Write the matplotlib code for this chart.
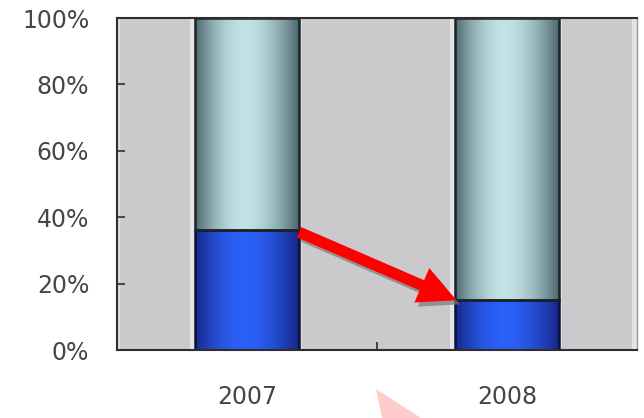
import numpy as np
import matplotlib
matplotlib.use("Agg")
import matplotlib.pyplot as plt
from matplotlib.patches import FancyArrowPatch, Polygon, Rectangle
import matplotlib.patheffects as pe

# Data: share of the blue segment and the remainder (percent)
years = ["2007", "2008"]
share_blue = [36, 15]
share_rest = [64, 85]
yticks = [0, 20, 40, 60, 80, 100]
ytick_labels = ["0%", "20%", "40%", "60%", "80%", "100%"]

W, H = 644, 418
fig = plt.figure(figsize=(W / 100, H / 100), dpi=100)
ax = fig.add_axes([117 / W, 68 / H, 520 / W, 332 / H])

x = np.arange(len(years))
width = 0.4
ax.set_xlim(-0.5, len(years) - 0.5)
ax.set_ylim(0, 100)
ax.set_facecolor("#cac8ca")

# Gray background panels between the bars, with pale edges
panel_edges = [-0.5] + [v for xi in x for v in (xi - width / 2, xi + width / 2)] + [len(years) - 0.5]
for a, b in zip(panel_edges[0::2], panel_edges[1::2]):
    ax.axvspan(a, b, color="#cbc9cb", zorder=0.2, lw=0)
    ax.axvspan(a, a + 0.012, color="#dedede", zorder=0.3, lw=0)
    ax.axvspan(b - 0.018, b, color="#e4e4e4", zorder=0.3, lw=0)


def shaded(dark, light, n=256, center=0.47):
    t = np.linspace(0, 1, n)
    d = np.abs(t - center) / np.where(t < center, center, 1 - center)
    s = np.clip(1 - d ** 1.8, 0, 1)
    dark = np.array(dark)
    light = np.array(light)
    row = dark[None, :] + (light - dark)[None, :] * s[:, None]
    return row[None, :, :]


blue_img = shaded((0.09, 0.15, 0.52), (0.17, 0.38, 0.98))
cyan_img = shaded((0.30, 0.40, 0.43), (0.76, 0.89, 0.90))

blue_bars = ax.bar(x, share_blue, width, color="#2552e0", edgecolor="none", zorder=2)
rest_bars = ax.bar(x, share_rest, width, bottom=share_blue, color="#a8d2d5",
                   edgecolor="none", zorder=2)

for bars, img, edge in ((blue_bars, blue_img, "#0b1238"), (rest_bars, cyan_img, "#1b2426")):
    for p in bars:
        x0, y0 = p.get_x(), p.get_y()
        w, h = p.get_width(), p.get_height()
        im = ax.imshow(img, extent=[x0, x0 + w, y0, y0 + h], aspect="auto",
                       interpolation="bilinear", zorder=2.1)
        im.set_clip_path(p)
        ax.add_patch(Rectangle((x0, y0), w, h, fill=False, edgecolor=edge,
                               lw=1.8, zorder=2.3))

ax.set_aspect("auto")
ax.set_xlim(-0.5, len(years) - 0.5)
ax.set_ylim(0, 100)

# Axes styling
for side in ("left", "bottom", "top"):
    ax.spines[side].set_color("#2e2e2e")
    ax.spines[side].set_linewidth(1.5)
ax.spines["right"].set_color("#9a9a9a")
ax.spines["right"].set_linewidth(1.0)
for s in ax.spines.values():
    s.set_zorder(3)

label_color = "#464646"
ax.set_yticks(yticks)
ax.set_yticklabels(ytick_labels)
ax.tick_params(axis="y", direction="in", length=6, width=1.2, color="#2e2e2e",
               pad=20, labelsize=17, labelcolor=label_color)
ax.set_xticks(x)
ax.set_xticklabels(years)
ax.tick_params(axis="x", which="major", length=0, pad=25, labelsize=17,
               labelcolor=label_color)
ax.set_xticks([0.5], minor=True)
ax.tick_params(axis="x", which="minor", direction="in", length=6, width=1.2,
               color="#2e2e2e")

# Red arrow from the 2007 blue segment top to the 2008 one
arrow = FancyArrowPatch(
    (x[0] + width / 2, share_blue[0] - 0.5), (x[1] - width / 2 + 0.005, share_blue[1]),
    arrowstyle="simple,head_width=27,head_length=27,tail_width=8",
    mutation_scale=1, color="#ff0000", lw=0, shrinkA=0, shrinkB=0, zorder=4,
    path_effects=[pe.SimplePatchShadow(offset=(2.5, -3), shadow_rgbFace="#7a7a7a", alpha=0.7),
                  pe.Normal()],
)
ax.add_patch(arrow)

# Pale pink shape at the bottom edge
tri = Polygon([(376 / W, 1 - 389 / H), (382 / W, 0), (421 / W, 0)],
              closed=True, transform=fig.transFigure, facecolor="#ffcccc",
              edgecolor="none", zorder=5)
fig.patches.append(tri)

fig.savefig("out.png", dpi=100, facecolor="white")
